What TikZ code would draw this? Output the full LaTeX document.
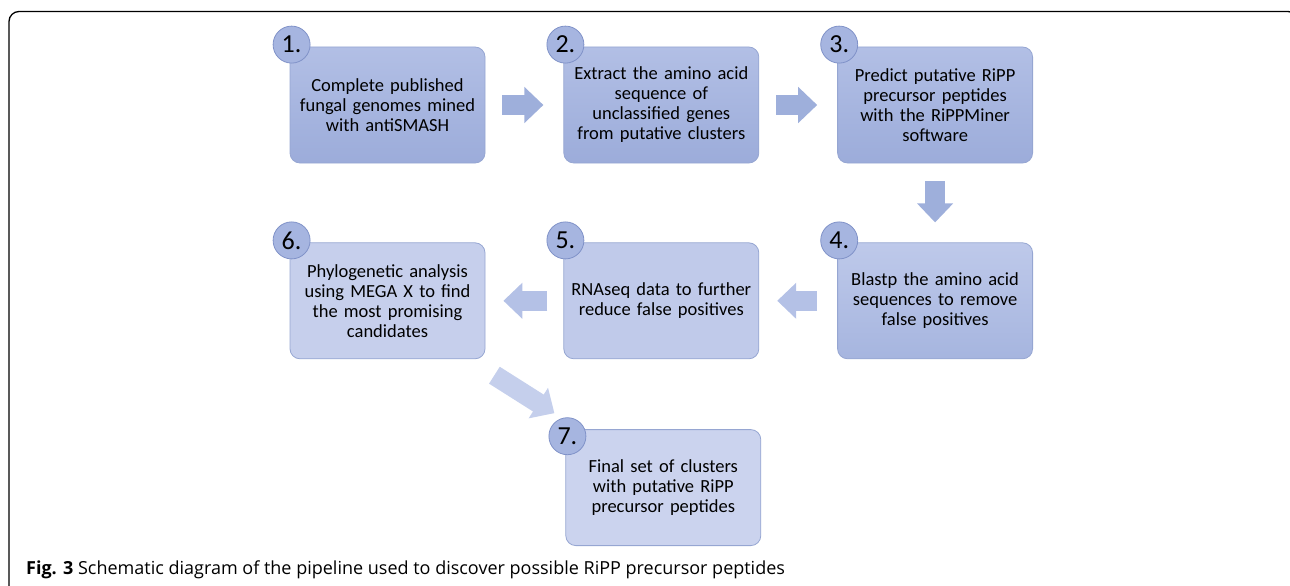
\documentclass[tikz,border=0pt]{standalone}
\usepackage{fontspec}
\setmainfont{Carlito}
\newfontfamily\capfont{Open Sans}
\usepackage{xcolor}
\usepackage{tikz}
\usetikzlibrary{positioning, arrows.meta, calc}

\definecolor{boxAt}{RGB}{178,191,229}
\definecolor{boxAb}{RGB}{156,172,218}
\definecolor{boxBt}{RGB}{190,201,234}
\definecolor{boxBb}{RGB}{166,181,223}
\definecolor{boxC}{RGB}{192,202,234}
\definecolor{boxD}{RGB}{198,207,236}
\definecolor{boxE}{RGB}{203,211,238}
\definecolor{boxline}{RGB}{150,166,210}
\definecolor{numfill}{RGB}{166,181,224}
\definecolor{numline}{RGB}{128,146,200}
\definecolor{arrA}{RGB}{158,175,219}
\definecolor{arrB}{RGB}{180,193,230}
\definecolor{arrC}{RGB}{197,207,236}

\begin{document}
\begin{tikzpicture}[
    x=1pt, y=1pt,
    node distance=78pt,
    stepbox/.style={rectangle, rounded corners=10pt, draw=boxline, line width=0.8pt,
        minimum width=195pt, minimum height=116pt, text width=185pt, align=center,
        font=\fontsize{18.5}{20}\selectfont},
    stepnum/.style={circle, draw=numline, line width=0.8pt, fill=numfill,
        minimum size=37pt, inner sep=0pt, font=\fontsize{26}{26}\selectfont},
    blockarrow/.style={line width=20pt, line cap=butt,
        -{Triangle[length=19pt, width=35pt]}}
]
% frame
\useasboundingbox (0,0) rectangle (1290,-586);
\draw[rounded corners=10pt, line width=1.3pt] (9,-600) -- (9,-11.5) -- (1298,-11.5) -- (1298,-600);

% steps
\node[stepbox, top color=boxAt, bottom color=boxAb] (1) at (387.5,-105)
    {Complete published\\fungal genomes mined\\with antiSMASH};
\node[stepbox, top color=boxAt, bottom color=boxAb] (2) [right=of 1]
    {Extract the amino acid\\sequence of\\unclassified genes\\from putative clusters};
\node[stepbox, top color=boxAt, bottom color=boxAb] (3) [right=of 2]
    {Predict putative RiPP\\precursor peptides\\with the RiPPMiner\\software};
\node[stepbox, top color=boxBt, bottom color=boxBb] (4) [below=79pt of 3]
    {Blastp the amino acid\\sequences to remove\\false positives};
\node[stepbox, fill=boxC] (5) [left=of 4]
    {RNAseq data to further\\reduce false positives};
\node[stepbox, fill=boxD] (6) [left=of 5]
    {Phylogenetic analysis\\using MEGA X to find\\the most promising\\candidates};
\node[stepbox, fill=boxE] (7) [below=70pt of 5, xshift=2pt]
    {Final set of clusters\\with putative RiPP\\precursor peptides};

% numbers
\foreach \i in {1,...,6}
    \node[stepnum] (n\i) at ($(\i.north west)+(2,2)$) {\i.};
\node[stepnum] (n7) at ($(7.north west)+(2,-7)$) {7.};

% arrows
\draw[blockarrow, arrA, shorten <=17pt, shorten >=20pt] (1) -- (2);
\draw[blockarrow, arrA, shorten <=17pt, shorten >=20pt] (2) -- (3);
\draw[blockarrow, arrA, shorten <=18pt, shorten >=20pt] (3) -- (4);
\draw[blockarrow, arrB, shorten <=20pt, shorten >=18pt] (4) -- (5);
\draw[blockarrow, arrB, shorten <=16pt, shorten >=18pt] (5) -- (6);
\coordinate (t6) at ($(6.south east)+(9,-16)$);
\coordinate (h7) at ($(7.north west)+(-11,16)$);
\draw[blockarrow, arrC] (t6) -- (h7);

% caption
\node[anchor=base west, inner sep=0pt, font=\capfont\fontsize{18}{20}\selectfont] (cap) at (26,-574)
    {\textbf{Fig. 3} Schematic diagram of the pipeline used to discover possible RiPP precursor peptides};
\end{tikzpicture}
\end{document}
